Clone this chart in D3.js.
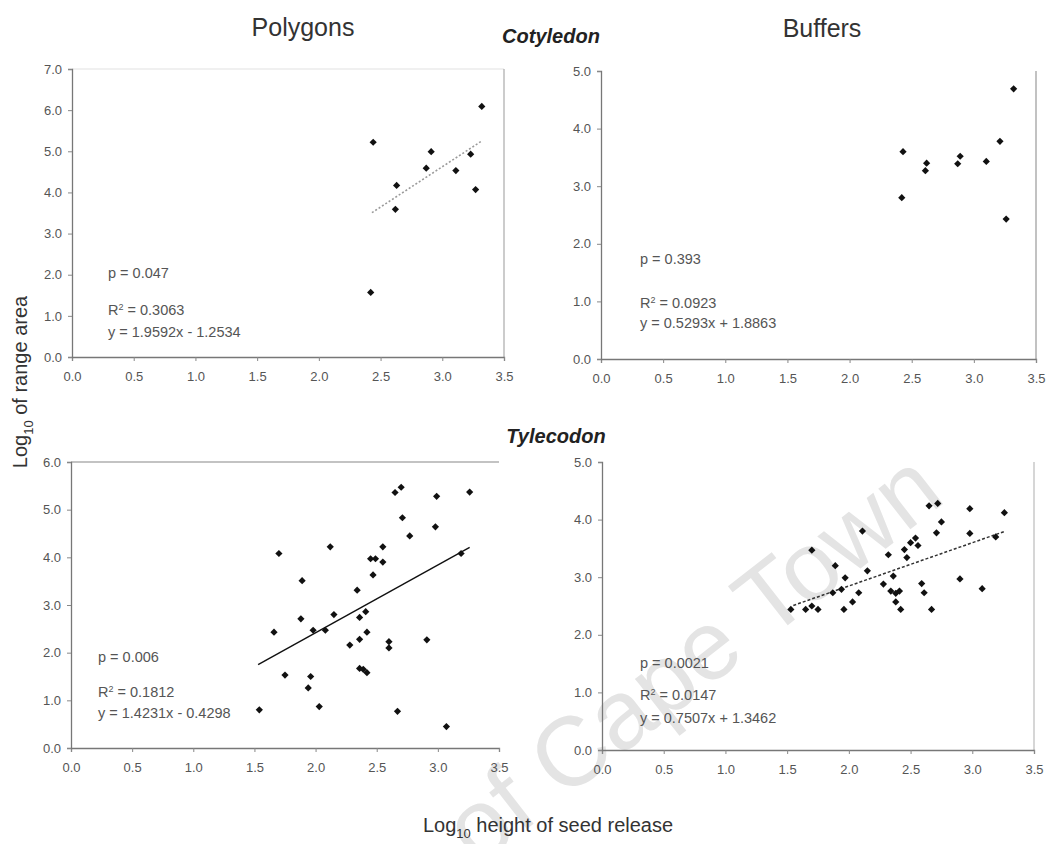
<!DOCTYPE html>
<html>
<head>
<meta charset="utf-8">
<script src="https://cdn.jsdelivr.net/npm/d3@7"></script>
<style>
  body { margin: 0; background: #fff; }
  svg { font-family: Arial, "Liberation Sans", sans-serif; }
</style>
</head>
<body>
<script>
// Cotyledon, polygons
const cotPolyX = [2.44, 2.42, 2.63, 2.62, 2.91, 2.87, 3.11, 3.23, 3.27, 3.32];
const cotPolyY = [5.22, 1.57, 4.17, 3.59, 4.99, 4.59, 4.53, 4.93, 4.07, 6.09];
// Cotyledon, buffers
const cotBufX = [2.43, 2.42, 2.62, 2.61, 2.89, 2.87, 3.10, 3.21, 3.26, 3.32];
const cotBufY = [3.60, 2.80, 3.40, 3.27, 3.52, 3.39, 3.43, 3.78, 2.43, 4.69];
// Tylecodon, polygons
const tylPolyX = [1.54, 1.66, 1.70, 1.75, 1.88, 1.89, 1.94, 1.96, 1.98, 2.03,
                  2.08, 2.12, 2.15, 2.28, 2.34, 2.36, 2.36, 2.36, 2.39, 2.42,
                  2.41, 2.42, 2.47, 2.45, 2.49, 2.55, 2.55, 2.60, 2.60, 2.65,
                  2.70, 2.71, 2.77, 2.67, 2.91, 2.99, 2.98, 3.07, 3.19, 3.26];
const tylPolyY = [0.80, 2.43, 4.08, 1.53, 2.71, 3.51, 1.26, 1.50, 2.47, 0.87,
                  2.47, 4.22, 2.80, 2.16, 3.31, 2.74, 2.28, 1.67, 1.65, 1.58,
                  2.86, 2.43, 3.63, 3.97, 3.97, 3.90, 4.22, 2.23, 2.10, 5.36,
                  5.47, 4.83, 4.45, 0.77, 2.27, 5.28, 4.64, 0.45, 4.08, 5.37];
// Tylecodon, buffers
const tylBufX = [1.53, 1.65, 1.70, 1.75, 1.70, 1.87, 1.89, 1.94, 1.96, 1.97,
                 2.03, 2.08, 2.11, 2.15, 2.28, 2.32, 2.36, 2.34, 2.38, 2.38,
                 2.41, 2.42, 2.45, 2.47, 2.50, 2.54, 2.56, 2.59, 2.61, 2.67,
                 2.65, 2.72, 2.71, 2.75, 2.90, 2.98, 2.98, 3.08, 3.19, 3.26];
const tylBufY = [2.44, 2.44, 2.50, 2.44, 3.47, 2.73, 3.20, 2.79, 2.44, 2.99,
                 2.57, 2.73, 3.80, 3.11, 2.88, 3.39, 3.02, 2.76, 2.72, 2.57,
                 2.76, 2.44, 3.48, 3.34, 3.60, 3.68, 3.55, 2.89, 2.73, 2.44,
                 4.24, 4.28, 3.77, 3.96, 2.97, 4.19, 3.76, 2.80, 3.70, 4.12];

const xTicks = [0.0, 0.5, 1.0, 1.5, 2.0, 2.5, 3.0, 3.5];
const yMaxes = [7, 5, 6, 5];

// regression fits [slope, intercept, from, to] (null = no line drawn)
const fits = [[1.9592, -1.2534, 2.43, 3.32], null,
              [1.4231, -0.4298, 1.53, 3.26], [0.7507, 1.3462, 1.55, 3.26]];
const statP = ["p = 0.047", "p = 0.393", "p = 0.006", "p = 0.0021"];
const statR2 = ["0.3063", "0.0923", "0.1812", "0.0147"];
const statEq = ["y = 1.9592x - 1.2534", "y = 0.5293x + 1.8863",
                "y = 1.4231x - 0.4298", "y = 0.7507x + 1.3462"];

const series = [[cotPolyX, cotPolyY], [cotBufX, cotBufY],
                [tylPolyX, tylPolyY], [tylBufX, tylBufY]];

// layout of the four panels
const panels = [
  {left: 72, right: 504, top: 69, bottom: 357, sx: 36, py: 278, ry: 315, ey: 337,
   topLine: "#e2e2e2", rightLine: "#aaa", trend: {stroke: "#9a9a9a", dash: "2,2", w: 1.6}},
  {left: 601, right: 1036, top: 71, bottom: 359, sx: 39, py: 264, ry: 308, ey: 328,
   topLine: null, rightLine: "#999", trend: null},
  {left: 71, right: 499, top: 462, bottom: 748, sx: 27, py: 662, ry: 697, ey: 718,
   topLine: "#888", rightLine: null, trend: {stroke: "#111", dash: null, w: 1.4}},
  {left: 602, right: 1034, top: 462, bottom: 750, sx: 38, py: 668, ry: 700, ey: 723,
   topLine: null, rightLine: "#bbb", trend: {stroke: "#333", dash: "3,2", w: 1.5}}
];

const svg = d3.select("body").append("svg")
    .attr("width", 1055)
    .attr("height", 844);

// watermark
svg.append("text")
    .attr("transform", "translate(948, 500) rotate(-38)")
    .attr("text-anchor", "end")
    .style("font-size", "98px")
    .style("fill", "#e4e4e4")
    .text("of Cape Town");

panels.forEach((p, i) => {
    const x = d3.scaleLinear().domain([0, 3.5]).range([p.left, p.right]);
    const y = d3.scaleLinear().domain([0, yMaxes[i]]).range([p.bottom, p.top]);
    const g = svg.append("g");

    if (p.topLine) {
        g.append("line")
            .attr("x1", p.left).attr("x2", p.right)
            .attr("y1", p.top).attr("y2", p.top)
            .attr("stroke", p.topLine).attr("stroke-width", 1.2);
    }
    if (p.rightLine) {
        g.append("line")
            .attr("x1", p.right).attr("x2", p.right)
            .attr("y1", p.top).attr("y2", p.bottom)
            .attr("stroke", p.rightLine).attr("stroke-width", 1.2);
    }

    const xa = g.append("g")
        .attr("transform", `translate(0, ${p.bottom})`)
        .call(d3.axisBottom(x).tickValues(xTicks).tickFormat(d3.format(".1f"))
            .tickSize(4).tickPadding(11));
    const ya = g.append("g")
        .attr("transform", `translate(${p.left}, 0)`)
        .call(d3.axisLeft(y).ticks(yMaxes[i]).tickFormat(d3.format(".1f"))
            .tickSize(4).tickPadding(6));
    [xa, ya].forEach(a => {
        a.select(".domain").attr("stroke", "#777").attr("stroke-width", 1.3);
        a.selectAll(".tick line").attr("stroke", "#888");
        a.selectAll("text").style("font-size", "13px").attr("fill", "#555");
    });

    const f = fits[i];
    if (f) {
        g.append("line")
            .attr("x1", x(f[2])).attr("y1", y(f[0] * f[2] + f[1]))
            .attr("x2", x(f[3])).attr("y2", y(f[0] * f[3] + f[1]))
            .attr("stroke", p.trend.stroke)
            .attr("stroke-width", p.trend.w)
            .attr("stroke-dasharray", p.trend.dash);
    }

    const pts = series[i][0].map((v, k) => [v, series[i][1][k]]);
    g.selectAll(".pt")
        .data(pts)
        .join("path")
        .attr("d", d3.symbol().type(d3.symbolSquare).size(26))
        .attr("transform", d => `translate(${x(d[0])}, ${y(d[1])}) rotate(45)`)
        .attr("fill", "#111");

    // statistics
    const st = g.append("g").style("font-size", "14.5px").attr("fill", "#555");
    st.append("text").attr("x", p.left + p.sx).attr("y", p.py).text(statP[i]);
    const r2 = st.append("text").attr("x", p.left + p.sx).attr("y", p.ry);
    r2.append("tspan").text("R");
    r2.append("tspan").attr("dy", -5).style("font-size", "9px").text("2");
    r2.append("tspan").attr("dy", 5).text(" = " + statR2[i]);
    st.append("text").attr("x", p.left + p.sx).attr("y", p.ey).text(statEq[i]);
});

// panel titles
svg.append("text").attr("x", 303).attr("y", 36).attr("text-anchor", "middle")
    .style("font-size", "25px").attr("fill", "#333").text("Polygons");
svg.append("text").attr("x", 822).attr("y", 37).attr("text-anchor", "middle")
    .style("font-size", "25px").attr("fill", "#333").text("Buffers");
svg.append("text").attr("x", 551).attr("y", 43).attr("text-anchor", "middle")
    .style("font-size", "20px").style("font-weight", "bold").style("font-style", "italic")
    .attr("fill", "#222").text("Cotyledon");
svg.append("text").attr("x", 556).attr("y", 443).attr("text-anchor", "middle")
    .style("font-size", "20px").style("font-weight", "bold").style("font-style", "italic")
    .attr("fill", "#222").text("Tylecodon");

// axis labels
const yl = svg.append("text")
    .attr("transform", "translate(27, 382) rotate(-90)")
    .attr("text-anchor", "middle")
    .style("font-size", "20px").attr("fill", "#333");
yl.append("tspan").text("Log");
yl.append("tspan").attr("dy", 6).style("font-size", "13px").text("10");
yl.append("tspan").attr("dy", -6).text(" of range area");

const xl = svg.append("text")
    .attr("x", 548).attr("y", 832)
    .attr("text-anchor", "middle")
    .style("font-size", "20px").attr("fill", "#333");
xl.append("tspan").text("Log");
xl.append("tspan").attr("dy", 6).style("font-size", "13px").text("10");
xl.append("tspan").attr("dy", -6).text(" height of seed release");
</script>
</body>
</html>
